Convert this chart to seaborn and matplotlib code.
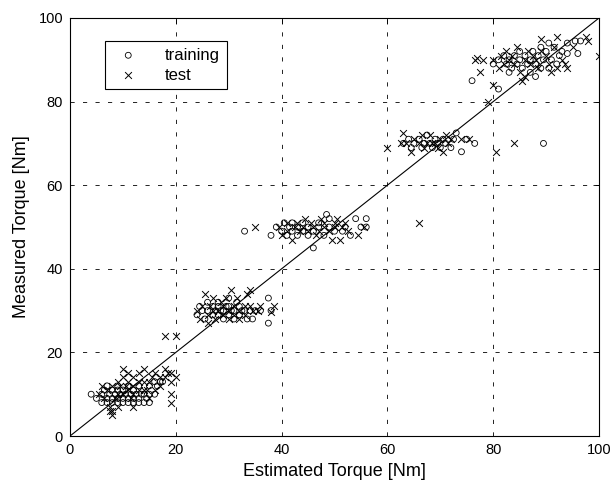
import matplotlib
matplotlib.use("Agg")
import matplotlib.pyplot as plt
import seaborn as sns
import pandas as pd

# training points (estimated, measured)
train_x = [4, 5, 6, 6, 6.5, 7, 7, 7.5, 8, 8, 8, 8.5, 9, 9, 9, 9.5, 10, 10, 10, 10.5, 11, 11, 11, 11.5,
           12, 12, 12, 12.5, 13, 13, 13, 13.5, 14, 14, 14.5, 15, 15, 16, 16, 16.5, 17, 17.5, 9, 7, 15,
           24, 24.5, 25, 25.5, 26, 26, 27, 27, 27.5, 28, 28, 28.5, 29, 29, 29.5, 30, 30, 30.5, 31, 31,
           31.5, 32, 32, 32.5, 33, 33.5, 34, 34.5, 35, 36, 37.5, 37.5, 38, 30, 28,
           33, 38, 39, 40, 40.5, 41, 41.5, 42, 42, 43, 43, 44, 44, 45, 45, 46, 46, 47, 47, 48, 48.5,
           49, 49, 50, 51.5, 52, 53, 54, 56, 56, 55,
           63, 64, 64.5, 65, 66, 66.5, 67, 67.5, 68, 68.5, 69, 69.5, 70, 70.5, 71, 72, 72.5, 73, 74,
           75, 76.5, 89.5,
           76, 81, 80, 81, 82, 82.5, 83, 83.5, 84, 84.5, 85, 85.5, 86, 86.5, 87, 87.5, 88, 88, 88.5,
           89, 89.5, 90, 90.5, 91, 91.5, 92, 92.5, 93, 94, 94, 95.5, 96.5, 96, 90.5, 85, 89, 83, 87]
train_y = [10, 9, 8, 10, 11, 9, 8, 10, 9, 11, 8, 10, 9, 8, 11, 10, 8, 9, 11, 10, 8, 9, 12, 10,
           8, 9, 11, 10, 8, 9, 12, 10, 8, 10, 9, 10, 8, 10, 13, 12, 13, 13, 12, 12, 12,
           29, 31, 30, 28, 30, 32, 29, 31, 30, 29, 31, 30, 28, 30, 31, 29, 31, 30, 28, 30,
           32, 29, 31, 30, 30, 28, 30, 28, 30, 30, 33, 27, 30, 33, 32,
           49, 48, 50, 49, 51, 48, 50, 49, 51, 48, 50, 49, 51, 50, 48, 45, 49, 50, 51, 48, 53,
           50, 52, 49, 49, 50, 48, 52, 52, 50, 50,
           70, 71, 69, 70, 71, 69, 70, 72, 70, 69, 71, 70, 69, 71, 70, 69, 71, 72.5, 68,
           71, 70, 70,
           85, 83, 89, 90, 91, 89, 90, 88, 91, 89, 90, 88, 91, 89, 90, 92, 86, 89, 91,
           88, 90, 92, 88, 90, 93, 89, 91, 92, 94, 91.5, 94.5, 94.5, 91.5, 94, 92, 93, 87, 87]

# test points (estimated, measured)
test_x = [5.5, 6, 6.5, 7, 7.5, 8, 8, 8.5, 9, 9, 9, 9.5, 10, 10, 10, 10.5, 11, 11, 11, 11.5, 12, 12,
          12, 13, 13, 13, 14, 14, 14, 14.5, 15, 15, 15.5, 16, 16, 17, 17, 18, 18, 18.5, 19, 19, 19,
          19, 20, 8, 7.5, 12,
          18, 20, 24, 24.5, 25, 25.5, 26, 26.5, 27, 27, 27.5, 28, 28.5, 29, 29, 29.5, 30, 30, 30.5,
          31, 31, 31.5, 32, 32, 33, 33, 33.5, 34, 34, 34.5, 35.5, 36, 38, 38.5, 26,
          35, 39.5, 40, 41, 41, 42, 42.5, 43, 43.5, 44, 44.5, 45, 45.5, 46, 46.5, 47, 47.5, 48, 48,
          49, 49.5, 50, 50, 50.5, 51, 51.5, 52, 52.5, 54.5, 55.5, 66,
          60, 62.5, 63, 63.5, 64.5, 65, 66, 66.5, 67, 67.5, 68, 68.5, 69, 69.5, 70, 70.5, 71, 71.5,
          72, 74, 75.5, 80.5, 84,
          76.5, 77, 77.5, 79, 80, 80, 81, 81.5, 82, 82.5, 83, 83.5, 84, 84.5, 85, 85.5, 86, 86.5,
          87, 87.5, 88, 88.5, 89, 89, 90, 90.5, 91, 91.5, 92, 92, 93, 93.5, 94, 95, 97.5, 98, 100,
          78, 86]
test_y = [10, 12, 9, 11, 7, 12, 6, 9, 10, 13, 7, 12, 10, 14, 16, 12, 11, 13, 15, 9, 12, 14,
          10, 11, 13, 15, 11, 13, 16, 11, 9, 13, 14, 11, 15, 14, 12, 16, 14, 15, 10, 15, 13,
          8, 14, 5, 6, 7,
          24, 24, 30, 28, 31, 34, 29, 31, 30, 33, 28, 30, 32, 29, 31, 33, 30, 28, 35,
          29, 31, 33, 30, 28, 31, 29, 34, 35, 31, 30, 30, 31, 29.7, 31, 27,
          50, 50, 48, 51, 49, 47, 50, 51, 49, 50, 52, 49, 51, 50, 48, 49, 52, 50, 51,
          49, 47, 51, 50, 52, 47, 50, 51, 49, 48, 50, 51,
          69, 70, 72.5, 70, 68, 71, 70, 72, 69, 70, 72, 70, 70, 69, 71, 68, 72, 70,
          71, 71, 71, 68, 70,
          90, 90.5, 87, 80, 90, 84, 88, 91, 89, 92, 90, 91, 89, 93, 87, 85, 90, 92,
          89, 91, 90, 88, 92, 95, 91, 89, 87, 93, 88, 95.5, 90, 89, 88, 93, 95.5, 94.5, 91,
          90, 86]

x_ticks = [0, 20, 40, 60, 80, 100]
y_ticks = [0, 20, 40, 60, 80, 100]
diag = [0, 100]

sns.set_style("white")
plt.rcParams['font.family'] = ['Liberation Sans', 'DejaVu Sans']
plt.rcParams['lines.scale_dashes'] = False
plt.rcParams['text.color'] = 'black'
plt.rcParams['axes.labelcolor'] = 'black'
plt.rcParams['xtick.color'] = 'black'
plt.rcParams['ytick.color'] = 'black'

train_df = pd.DataFrame({"est": train_x, "meas": train_y})
test_df = pd.DataFrame({"est": test_x, "meas": test_y})

fig = plt.figure(figsize=(6.14, 4.97), dpi=100)
ax = fig.add_axes([0.114, 0.1227, 0.8616, 0.8411])

sns.scatterplot(data=train_df, x="est", y="meas", marker="o", s=18,
                facecolors="none", edgecolor="black", linewidth=0.6, ax=ax,
                label="training", legend=False, zorder=3)
sns.scatterplot(data=test_df, x="est", y="meas", marker="x", s=24,
                color="black", linewidth=0.7, ax=ax, label="test", legend=False, zorder=3)
sns.lineplot(x=diag, y=diag, color="black", linewidth=0.8, ax=ax, zorder=2)

ax.set_xlim(0, 100)
ax.set_ylim(0, 100)
ax.set_xticks(x_ticks)
ax.set_yticks(y_ticks)
ax.set_xticklabels([str(t) for t in x_ticks], fontsize=10.5, color="black")
ax.set_yticklabels([str(t) for t in y_ticks], fontsize=10.5, color="black")
ax.tick_params(direction="in", top=True, right=True, length=4, width=0.6, color="black", pad=5)
ax.grid(True, color="black", linestyle=(0, (3, 6)), linewidth=0.6)
for s in ax.spines.values():
    s.set_color("black")
    s.set_linewidth(0.8)

ax.set_xlabel("Estimated Torque [Nm]", fontsize=13, labelpad=4, color="black")
ax.set_ylabel("Measured Torque [Nm]", fontsize=13, labelpad=6, color="black")

leg = ax.legend(loc="upper left", bbox_to_anchor=(0.066, 0.945), fontsize=12,
                frameon=True, fancybox=False, edgecolor="black", framealpha=1,
                handletextpad=1.2, borderpad=0.4, labelspacing=0.3, borderaxespad=0)
leg.get_frame().set_linewidth(0.8)
for t in leg.get_texts():
    t.set_color("black")

fig.savefig("out.png", dpi=100)
